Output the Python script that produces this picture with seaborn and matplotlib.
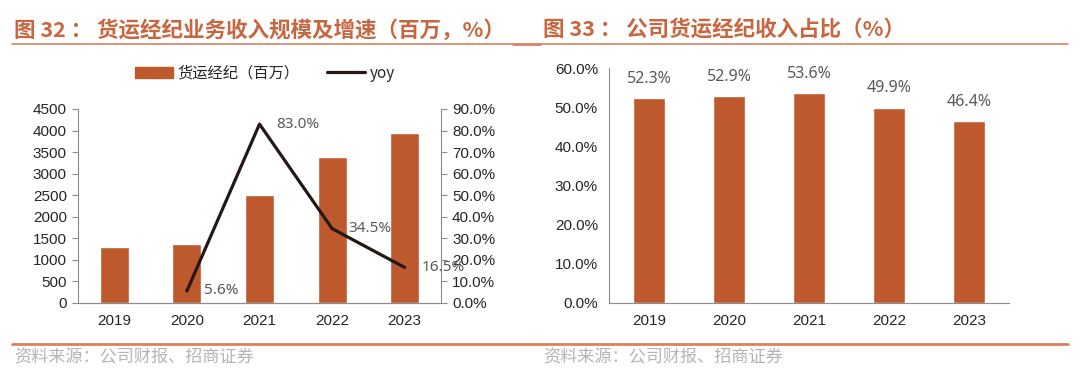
import numpy as np
import pandas as pd
import seaborn as sns
import matplotlib.pyplot as plt
from matplotlib.lines import Line2D
from matplotlib.patches import Patch

# data
years = ["2019", "2020", "2021", "2022", "2023"]
revenue = [1300, 1373, 2512, 3379, 3937]          # 货运经纪（百万）
yoy_years = ["2020", "2021", "2022", "2023"]
yoy = [5.6, 83.0, 34.5, 16.5]                      # %
share = [52.3, 52.9, 53.6, 49.9, 46.4]             # 收入占比 %

bar_color = "#BE582D"
title_color = "#C8663F"
rule_color = "#D9825F"
label_grey = "#595959"
axis_grey = "#8C8C8C"

sns.set_style("white")
plt.rcParams['font.family'] = ['Liberation Sans', 'Noto Sans CJK SC', 'DejaVu Sans']
cjk = ['Noto Sans CJK SC', 'DejaVu Sans']

fig = plt.figure(figsize=(10.8, 3.79), dpi=100, facecolor="white")

def px(x, y):
    return x / 1080, 1 - y / 379

# --- left panel: revenue bars + yoy line
ax1 = fig.add_axes([78 / 1080, 1 - 303 / 379, (441 - 78) / 1080, (303 - 109) / 379])
df1 = pd.DataFrame({"year": years, "rev": revenue})
sns.barplot(data=df1, x="year", y="rev", color=bar_color, width=0.4, ax=ax1, saturation=1)
ax1.set_ylim(0, 4500)
ax1.set_yticks(np.arange(0, 4501, 500))
ax2 = ax1.twinx()
df2 = pd.DataFrame({"pos": [years.index(y) for y in yoy_years], "yoy": yoy})
sns.lineplot(data=df2, x="pos", y="yoy", color="#231815", linewidth=2.3, ax=ax2)
ax2.set_ylim(0, 90)
ax2.set_yticks(np.arange(0, 91, 10))
ax2.set_yticklabels([f"{v:.1f}%" for v in np.arange(0, 91, 10)])
ax1.set_xlim(-0.5, 4.5)
for p, v in zip(df2["pos"], df2["yoy"]):
    ax2.annotate(f"{v:.1f}%", (p, v), xytext=(12, 0), textcoords="offset points",
                 ha="left", va="center", fontsize=11, color=label_grey, family=['Noto Sans', 'DejaVu Sans'])

for ax in (ax1, ax2):
    ax.set_xlabel("")
    ax.set_ylabel("")
    ax.spines["top"].set_visible(False)
    for s in ax.spines.values():
        s.set_color(axis_grey)
        s.set_linewidth(0.8)
    ax.tick_params(axis="y", length=4, color=axis_grey, labelsize=11, pad=4)
ax2.spines["left"].set_visible(False)
ax1.spines["right"].set_visible(False)
ax1.set_xticks(np.arange(-0.5, 5, 1), minor=True)
ax1.tick_params(axis="x", which="major", length=0, labelsize=11, pad=8)
ax1.tick_params(axis="x", which="minor", length=4, color=axis_grey)

# --- right panel: share bars
ax3 = fig.add_axes([609 / 1080, 1 - 303 / 379, (1009 - 609) / 1080, (303 - 68) / 379])
df3 = pd.DataFrame({"year": years, "share": share})
sns.barplot(data=df3, x="year", y="share", color=bar_color, width=0.4, ax=ax3, saturation=1)
ax3.set_ylim(0, 60)
ax3.set_xlim(-0.5, 4.5)
ax3.set_yticks(np.arange(0, 61, 10))
ax3.set_yticklabels([f"{v:.1f}%" for v in np.arange(0, 61, 10)])
for i, v in enumerate(share):
    ax3.annotate(f"{v:.1f}%", (i, v), xytext=(0, 8), textcoords="offset points",
                 ha="center", va="bottom", fontsize=11.5, color=label_grey, family=['Noto Sans', 'DejaVu Sans'])
ax3.set_xlabel("")
ax3.set_ylabel("")
ax3.spines["top"].set_visible(False)
ax3.spines["right"].set_visible(False)
for s in ax3.spines.values():
    s.set_color(axis_grey)
    s.set_linewidth(0.8)
ax3.tick_params(axis="y", length=4, color=axis_grey, labelsize=11, pad=4)
ax3.set_xticks(np.arange(-0.5, 5, 1), minor=True)
ax3.tick_params(axis="x", which="major", length=0, labelsize=11, pad=8)
ax3.tick_params(axis="x", which="minor", length=4, color=axis_grey)

# legend for left panel
handles = [Patch(color=bar_color), Line2D([], [], color="#231815", linewidth=2.3)]
fig.legend(handles, ["货运经纪（百万）", "yoy"], loc="center", bbox_to_anchor=px(265, 73),
           ncol=2, frameon=False, handlelength=2.5, handletextpad=0.3, columnspacing=1.8,
           prop={'family': cjk, 'size': 11})

# titles, rules and source notes
fig.text(*px(14, 30), "图 32 ： 货运经纪业务收入规模及增速（百万，%）", color=title_color,
         fontsize=15.5, fontweight="bold", va="center", family=cjk)
fig.text(*px(543, 30), "图 33 ： 公司货运经纪收入占比（%）", color=title_color,
         fontsize=15.5, fontweight="bold", va="center", family=cjk)
for x0, x1, y, lw in [(12, 513, 44, 1.2), (513, 540, 44, 2.0), (540, 1068, 44, 1.2),
                      (12, 540, 344, 2.0), (540, 1068, 344, 2.0)]:
    fig.add_artist(Line2D([x0 / 1080, x1 / 1080], [1 - y / 379] * 2, color=rule_color, linewidth=lw))
for x in (14, 543):
    fig.text(*px(x, 357), "资料来源：公司财报、招商证券", color="#B4B4B4", fontsize=12.3,
             va="center", family=cjk, fontweight="light")

fig.savefig("out.png", dpi=100, facecolor="white")
